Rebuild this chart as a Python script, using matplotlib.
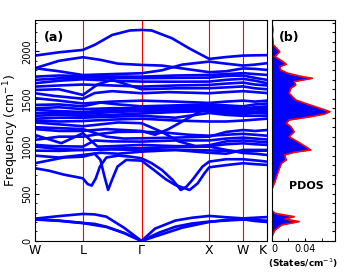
import numpy as np
import matplotlib
matplotlib.use("Agg")
import matplotlib.pyplot as plt
from matplotlib.ticker import MultipleLocator

## Path: W - L - Gamma - X - W - K  (t = 0..5, one unit per segment)
seg_len = [0.7071, 0.8660, 1.0, 0.5, 0.3536]
kpt_labels = ["W", "L", r"$\Gamma$", "X", "W", "K"]

## Phonon bands: (t, frequency in cm^-1)
acoustic = [
    [(0,230),(0.5,215),(1,190),(1.2,180),(1.4,150),(1.7,85),(2,0),(2.25,85),(2.5,150),(2.75,185),(3,204),(3.5,215),(4,225),(4.5,220),(5,214)],
    [(0,235),(0.5,262),(1,285),(1.2,280),(1.4,256),(1.7,140),(2,0),(2.2,130),(2.5,215),(2.75,245),(3,264),(3.5,250),(4,238),(4.5,245),(5,252)],
    [(0,226),(0.5,212),(1,188),(1.4,148),(1.7,84),(2,0),(2.3,70),(2.6,140),(3,200),(3.5,222),(4,230),(4.5,210),(5,200)],
]
low_optical = [
    [(0,767),(0.3,740),(0.6,700),(1,661),(1.08,600),(1.15,584),(1.22,660),(1.29,784),(1.4,880),(1.6,900),(1.8,890),(2,872),
     (2.15,820),(2.3,749),(2.46,643),(2.58,538),(2.66,570),(2.75,643),(2.9,784),(3,837),(3.5,862),(4,862),(4.5,850),(5,837)],
    [(0,820),(0.3,850),(0.6,880),(1,889),(1.2,920),(1.3,855),(1.36,700),(1.43,538),(1.5,650),(1.59,784),(1.74,855),(2,847),
     (2.18,750),(2.36,650),(2.5,590),(2.62,560),(2.71,538),(2.83,608),(2.93,714),(3,777),(3.5,800),(4,820),(4.5,810),(5,802)],
    [(0,900),(0.5,880),(1,907),(1.3,930),(1.6,920),(2,942),(2.5,960),(3,930),(3.5,920),(4,960),(4.5,960),(5,960)],
    [(0,953),(0.5,950),(1,960),(1.5,965),(2,960),(2.5,960),(3,955),(3.5,950),(4,945),(4.5,950),(5,953)],
    [(0,995),(0.5,970),(1,960),(1.5,975),(2,978),(2.5,990),(3,995),(3.5,960),(4,928),(4.5,920),(5,907)],
]
mid_optical = [
    [(0,1118),(0.55,1031),(1,1136),(1.25,995),(1.5,1000),(2,1013),(2.5,1000),(3,1000),(3.5,1020),(4,1030),(4.5,1020),(5,1013)],
    [(0,1013),(0.4,1000),(1,995),(1.2,1060),(1.5,1050),(2,1048),(2.5,1060),(3,1060),(3.5,1080),(4,1090),(4.5,1080),(5,1070)],
    [(0,1066),(0.5,1100),(1,1100),(1.3,1130),(1.6,1150),(2,1153),(2.4,1140),(2.7,1120),(3,1110),(3.5,1120),(4,1130),(4.5,1120),(5,1110)],
    [(0,1200),(0.5,1190),(1,1180),(1.4,1100),(1.7,1080),(2,1083),(2.5,1090),(3,1100),(3.5,1150),(4,1170),(4.5,1160),(5,1170)],
    [(0,1250),(0.5,1230),(1,1210),(1.3,1230),(1.6,1250),(2,1242),(2.3,1150),(2.55,1050),(2.8,1000),(3,1010),(3.5,1050),(4,1060),(4.5,1050),(5,1040)],
    [(0,1180),(0.5,1160),(1,1160),(1.4,1180),(2,1160),(2.2,1120),(2.4,1180),(2.7,1300),(2.9,1380),(3,1400),(3.5,1390),(4,1380),(4.5,1390),(5,1400)],
    [(0,1270),(0.5,1260),(1,1265),(1.5,1280),(2,1290),(2.5,1270),(3,1260),(3.5,1260),(4,1270),(4.5,1280),(5,1290)],
    [(0,1290),(0.5,1300),(1,1300),(1.5,1310),(2,1320),(2.5,1300),(3,1350),(3.5,1330),(4,1320),(4.5,1320),(5,1320)],
    [(0,1320),(0.5,1330),(1,1320),(1.5,1330),(2,1345),(2.5,1360),(3,1370),(3.5,1350),(4,1340),(4.5,1350),(5,1345)],
    [(0,1347),(0.5,1350),(1,1340),(1.5,1360),(2,1370),(2.5,1380),(3,1382),(3.5,1370),(4,1360),(4.5,1365),(5,1370)],
    [(0,1382),(0.5,1370),(1,1360),(1.5,1380),(2,1385),(2.5,1395),(3,1400),(3.5,1390),(4,1380),(4.5,1390),(5,1395)],
    [(0,1400),(0.5,1410),(1,1390),(1.5,1400),(2,1400),(2.5,1410),(3,1420),(3.5,1410),(4,1400),(4.5,1410),(5,1420)],
    [(0,1435),(0.5,1440),(1,1420),(1.3,1460),(1.6,1440),(2,1420),(2.5,1430),(3,1440),(3.5,1430),(4,1420),(4.5,1440),(5,1450)],
    [(0,1506),(0.5,1480),(1,1450),(1.5,1470),(2,1480),(2.5,1470),(3,1456),(3.5,1470),(4,1480),(4.5,1470),(5,1480)],
]
high_optical = [
    [(0,1558),(0.4,1530),(1,1500),(1.2,1560),(1.5,1580),(2,1558),(2.4,1570),(3,1558),(3.5,1570),(4,1580),(4.5,1570),(5,1560)],
    [(0,1593),(0.5,1600),(1,1540),(1.25,1650),(1.5,1700),(2,1600),(2.5,1610),(3,1611),(3.5,1620),(4,1630),(4.5,1610),(5,1600)],
    [(0,1628),(0.5,1640),(1,1650),(1.5,1640),(2,1628),(2.5,1640),(3,1646),(3.5,1660),(4,1670),(4.5,1650),(5,1640)],
    [(0,1664),(0.5,1690),(1,1705),(1.5,1690),(2,1681),(2.5,1680),(3,1681),(3.5,1700),(4,1710),(4.5,1690),(5,1664)],
    [(0,1699),(0.5,1715),(1,1725),(1.5,1720),(2,1716),(2.5,1720),(3,1723),(3.5,1740),(4,1745),(4.5,1720),(5,1699)],
    [(0,1733),(0.5,1745),(1,1740),(1.5,1735),(2,1733),(2.5,1745),(3,1751),(3.5,1760),(4,1770),(4.5,1760),(5,1751)],
    [(0,1822),(0.5,1790),(1,1750),(1.5,1760),(2,1769),(2.3,1800),(2.6,1860),(3,1892),(3.5,1870),(4,1850),(4.5,1860),(5,1875)],
    [(0,1822),(0.5,1900),(1,1938),(1.3,1910),(1.6,1870),(2,1857),(2.3,1850),(2.6,1820),(3,1780),(3.5,1790),(4,1820),(4.5,1815),(5,1804)],
    [(0,1955),(0.5,1990),(1,2015),(1.2,2068),(1.5,2173),(1.8,2220),(2,2226),(2.15,2220),(2.45,2138),(2.7,2033),(3,1920),
     (3.5,1940),(4,1955),(4.5,1958),(5,1960)],
]

## PDOS
pdos_freq = [0, 63, 116, 169, 204, 232, 256, 292, 320, 400, 500, 556, 626, 731, 820, 855, 907, 935, 960, 995,
             1048, 1100, 1153, 1206, 1242, 1276, 1311, 1340, 1364, 1400, 1456, 1487, 1522, 1558, 1611, 1646,
             1681, 1716, 1733, 1769, 1804, 1839, 1864, 1892, 1945, 1997, 2033, 2068, 2173, 2230, 2330]
pdos_val = [0, 0.001, 0.004, 0.012, 0.033, 0.016, 0.027, 0.004, 0.0005, 0, 0, 0.0008, 0.0039, 0.0078, 0.0117,
            0.0175, 0.0156, 0.027, 0.047, 0.041, 0.031, 0.021, 0.027, 0.023, 0.0175, 0.021, 0.047, 0.064,
            0.070, 0.058, 0.039, 0.029, 0.025, 0.021, 0.023, 0.029, 0.027, 0.049, 0.037, 0.0195, 0.0109,
            0.0097, 0.0175, 0.0136, 0.0039, 0.0097, 0.0058, 0.002, 0.0008, 0.0015, 0]

kpos = np.concatenate([[0], np.cumsum(seg_len)])

def t_to_k(t):
    t = np.asarray(t, dtype=float)
    i = np.clip(np.floor(t).astype(int), 0, len(seg_len) - 1)
    return kpos[i] + (t - i) * np.array(seg_len)[i]

fig = plt.figure(figsize=(3.57, 2.76), dpi=100)
ax = fig.add_axes([0.098, 0.127, 0.650, 0.801])
axd = fig.add_axes([0.761, 0.127, 0.177, 0.801])
YMAX = 2332

for band in acoustic + low_optical + mid_optical + high_optical:
    t, f = zip(*band)
    ax.plot(t_to_k(t), f, color="blue", lw=1.9, solid_capstyle="round", solid_joinstyle="round")

for kx in kpos[1:-1]:
    ax.axvline(kx, color="red", lw=0.8, zorder=0)

ax.set_xlim(kpos[0], kpos[-1])
ax.set_ylim(0, YMAX)
ax.set_xticks(kpos)
ax.set_xticklabels(kpt_labels, fontsize=9)
ax.tick_params(axis="x", length=0, pad=2)
ax.get_xticklabels()[-1].set_ha("right")
ax.yaxis.set_major_locator(MultipleLocator(500))
ax.yaxis.set_minor_locator(MultipleLocator(100))
ax.tick_params(axis="y", which="both", direction="in", labelsize=7, pad=2)
ax.tick_params(axis="y", which="major", length=3)
ax.tick_params(axis="y", which="minor", length=1.5)
for lab in ax.get_yticklabels():
    lab.set_rotation(90)
    lab.set_va("center")
ax.set_ylabel("Frequency (cm$^{-1}$)", fontsize=9, labelpad=1)
ax.text(0.04, 0.95, "(a)", transform=ax.transAxes, fontsize=9, fontweight="bold", va="top")

axd.fill_betweenx(pdos_freq, 0, pdos_val, color="blue", lw=0)
axd.plot(pdos_val, pdos_freq, color="red", lw=1.2)
axd.set_ylim(0, YMAX)
axd.set_xlim(0, 0.076)
axd.set_xticks([0, 0.04])
axd.set_xticklabels(["0", "0.04"], fontsize=7)
axd.get_xticklabels()[0].set_ha("left")
axd.xaxis.set_minor_locator(MultipleLocator(0.02))
axd.tick_params(axis="x", which="both", direction="in", length=2, pad=2)
axd.yaxis.tick_right()
axd.yaxis.set_major_locator(MultipleLocator(100))
axd.tick_params(axis="y", which="both", direction="in", length=2, labelright=False)
axd.set_xlabel("(States/cm$^{-1}$)", fontsize=6.5, fontweight="bold", labelpad=2)
axd.text(0.12, 0.95, "(b)", transform=axd.transAxes, fontsize=9, fontweight="bold", va="top")
axd.text(0.55, 0.235, "PDOS", transform=axd.transAxes, fontsize=8, fontweight="bold", ha="center")

fig.savefig("out.png", dpi=100)
